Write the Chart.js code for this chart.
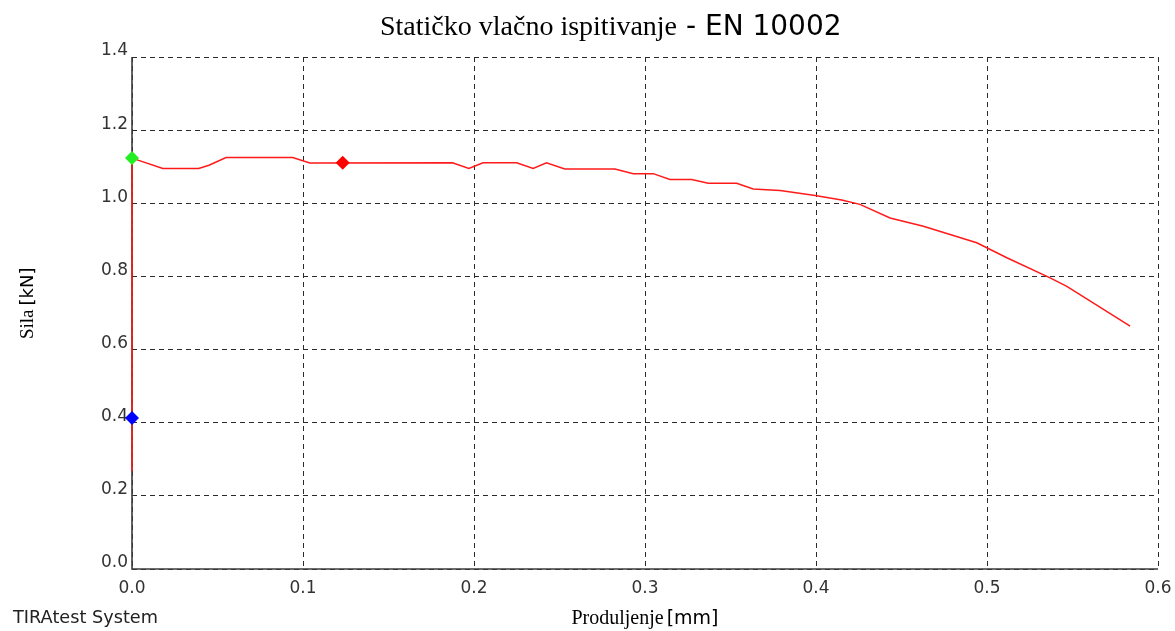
<!DOCTYPE html>
<html>
<head>
<meta charset="utf-8">
<script src="https://cdn.jsdelivr.net/npm/chart.js@4/dist/chart.umd.min.js"></script>
<style>
  html, body { margin: 0; padding: 0; background: #fff; }
  #wrap { position: relative; width: 1175px; height: 631px; }
</style>
</head>
<body>
<div id="wrap"><canvas id="c" width="1175" height="631"></canvas></div>
<script>
// ---- data ----
const titleSerif = "Statičko vlačno ispitivanje";
const titleSans = " - EN 10002";
const xTitleSerif = "Produljenje";
const xTitleSans = "[mm]";
const yTitleSerif = "Sila";
const yTitleSans = "[kN]";
const footerText = "TIRAtest System";

const xTicks = [0.0, 0.1, 0.2, 0.3, 0.4, 0.5, 0.6];
const yTicks = [0.0, 0.2, 0.4, 0.6, 0.8, 1.0, 1.2, 1.4];

const elongation = [0, 0, 0.0035, 0.018, 0.039, 0.045, 0.055, 0.094, 0.104, 0.1874, 0.197, 0.2053,
  0.2249, 0.2346, 0.2424, 0.2531, 0.2824, 0.2931, 0.3048, 0.3146, 0.3273, 0.337, 0.3536, 0.3633,
  0.379, 0.3995, 0.415, 0.4257, 0.4433, 0.4628, 0.494, 0.5116, 0.5369, 0.5467, 0.5837];
const force = [0.267, 1.124, 1.118, 1.095, 1.095, 1.104, 1.125, 1.125, 1.110, 1.111, 1.095, 1.111,
  1.111, 1.095, 1.111, 1.094, 1.094, 1.081, 1.081, 1.065, 1.065, 1.055, 1.055, 1.039,
  1.035, 1.021, 1.009, 0.997, 0.960, 0.937, 0.892, 0.851, 0.796, 0.773, 0.664];

const markerGreen = [0, 1.124];
const markerBlue = [0, 0.413];
const markerRed = [0.1232, 1.111];

// ---- build ----
const curve = elongation.map((x, i) => ({x: x, y: force[i]}));
const pt = a => [{x: a[0], y: a[1]}];

const SANS = '"DejaVu Sans"';
const SERIF = '"Liberation Serif"';

const axisPlugin = {
  id: 'axisLines',
  beforeDatasetsDraw(chart) {
    const ctx = chart.ctx;
    const ca = chart.chartArea;
    ctx.save();
    ctx.strokeStyle = '#3c3c3c';
    ctx.lineWidth = 1.6;
    ctx.setLineDash([]);
    ctx.beginPath();
    ctx.moveTo(ca.left, ca.top);
    ctx.lineTo(ca.left, ca.bottom);
    ctx.lineTo(ca.right, ca.bottom);
    ctx.stroke();
    ctx.restore();
  }
};

const textPlugin = {
  id: 'texts',
  afterDraw(chart) {
    const ctx = chart.ctx;
    const ca = chart.chartArea;
    ctx.save();
    ctx.fillStyle = '#000';
    ctx.textBaseline = 'alphabetic';
    ctx.textAlign = 'left';
    // title
    ctx.font = '28px ' + SERIF;
    const w1 = ctx.measureText(titleSerif).width;
    let tx = 380;
    ctx.fillText(titleSerif, tx, 35);
    ctx.font = '28px ' + SANS;
    ctx.fillText(titleSans, tx + w1, 35);

    // x title
    ctx.font = '20px ' + SERIF;
    const xw1 = ctx.measureText(xTitleSerif).width;
    ctx.font = '19px ' + SANS;
    const xw2 = ctx.measureText(xTitleSans).width;
    const gap = 3;
    let xs = (ca.left + ca.right) / 2 - (xw1 + gap + xw2) / 2;
    ctx.font = '20px ' + SERIF;
    ctx.fillText(xTitleSerif, xs, 624);
    ctx.font = '19px ' + SANS;
    ctx.fillText(xTitleSans, xs + xw1 + gap, 624);

    // y title (rotated)
    ctx.save();
    ctx.translate(33, 339);
    ctx.rotate(-Math.PI / 2);
    ctx.font = '19px ' + SERIF;
    const yw1 = ctx.measureText(yTitleSerif).width;
    ctx.fillText(yTitleSerif, 0, 0);
    ctx.font = '18px ' + SANS;
    ctx.fillText(yTitleSans, yw1 + 4, 0);
    ctx.restore();

    // footer
    ctx.fillStyle = '#222';
    ctx.font = '17.7px ' + SANS;
    ctx.fillText(footerText, 13, 623);
    ctx.restore();
  }
};

new Chart(document.getElementById('c'), {
  type: 'scatter',
  data: {
    datasets: [
      { data: curve, showLine: true, borderColor: '#ff1a1a', borderWidth: 1.5, pointRadius: 0,
        pointHoverRadius: 0, tension: 0, clip: false, order: 4 },
      { data: pt(markerGreen), pointStyle: 'rectRot', pointRadius: 7, backgroundColor: '#22ee22',
        borderColor: '#22ee22', borderWidth: 0, clip: false, order: 1 },
      { data: pt(markerBlue), pointStyle: 'rectRot', pointRadius: 7, backgroundColor: '#0000ff',
        borderColor: '#0000ff', borderWidth: 0, clip: false, order: 2 },
      { data: pt(markerRed), pointStyle: 'rectRot', pointRadius: 7, backgroundColor: '#ff0000',
        borderColor: '#ff0000', borderWidth: 0, clip: false, order: 3 }
    ]
  },
  options: {
    responsive: false,
    animation: false,
    devicePixelRatio: 1,
    layout: { padding: { left: 0, right: 17, top: 57, bottom: 0 } },
    plugins: { legend: { display: false }, title: { display: false }, tooltip: { enabled: false } },
    events: [],
    scales: {
      x: {
        type: 'linear', min: 0, max: 0.6,
        afterBuildTicks: s => { s.ticks = xTicks.map(v => ({value: v})); },
        afterFit: s => { s.height = 62; s.paddingRight = 0; s.paddingLeft = 0; },
        ticks: { color: '#333', font: { family: 'DejaVu Sans', size: 17 }, padding: 9,
          maxRotation: 0, autoSkip: false, callback: v => Number(v).toFixed(1) },
        grid: { color: '#2a2a2a', lineWidth: 1, drawTicks: false },
        border: { display: false, dash: [5, 4] }
      },
      y: {
        type: 'linear', min: 0, max: 1.4,
        afterBuildTicks: s => { s.ticks = yTicks.map(v => ({value: v})); },
        afterFit: s => { s.width = 132; s.paddingTop = 0; s.paddingBottom = 0; },
        ticks: { color: '#333', font: { family: 'DejaVu Sans', size: 17 }, padding: 4,
          labelOffset: -6, autoSkip: false, callback: v => Number(v).toFixed(1) },
        grid: { color: '#2a2a2a', lineWidth: 1, drawTicks: false },
        border: { display: false, dash: [5, 4] }
      }
    }
  },
  plugins: [axisPlugin, textPlugin]
});
</script>
</body>
</html>
